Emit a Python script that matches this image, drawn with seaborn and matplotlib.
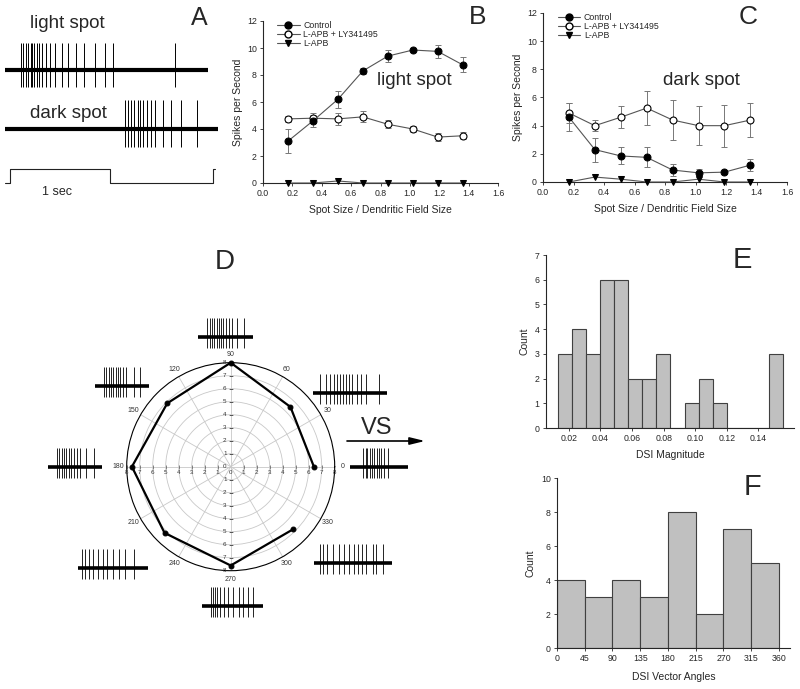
import numpy as np
import pandas as pd
import matplotlib
matplotlib.use("Agg")
import matplotlib.pyplot as plt
import seaborn as sns
from matplotlib.lines import Line2D

# ---------------- data ----------------
spot_size = [0.17, 0.34, 0.51, 0.68, 0.85, 1.02, 1.19, 1.36]
light_control = [3.1, 4.6, 6.2, 8.3, 9.4, 9.85, 9.75, 8.75]
light_control_err = [0.87, 0.45, 0.62, 0.25, 0.42, 0.1, 0.5, 0.55]
light_ly = [4.75, 4.8, 4.75, 4.9, 4.35, 4.0, 3.4, 3.5]
light_ly_err = [0.25, 0.35, 0.45, 0.4, 0.3, 0.2, 0.3, 0.25]
light_lapb = [0, 0, 0.15, 0, 0, 0, 0, 0]

dark_control = [4.6, 2.3, 1.85, 1.75, 0.85, 0.65, 0.7, 1.2]
dark_control_err = [1.0, 0.85, 0.6, 0.7, 0.4, 0.3, 0.1, 0.4]
dark_ly = [4.9, 4.0, 4.6, 5.25, 4.4, 4.0, 4.0, 4.4]
dark_ly_err = [0.7, 0.4, 0.8, 1.2, 1.4, 1.4, 1.5, 1.2]
dark_lapb = [0, 0.35, 0.2, 0, 0, 0.2, 0, 0]

legend_labels = ["Control", "L-APB + LY341495", "L-APB"]

# polar tuning (direction in degrees, spikes/s)
directions = [0, 45, 90, 135, 180, 225, 270, 315]
dir_response = [6.4, 6.5, 8.0, 6.9, 7.6, 7.2, 7.6, 6.8]

# DSI magnitude histogram
e_bin_start = 0.0129
e_bin_width = 0.00892
e_counts = [3, 4, 3, 6, 6, 2, 2, 3, 0, 1, 2, 1, 0, 0, 0, 3]
e_ticks = [0.02, 0.04, 0.06, 0.08, 0.10, 0.12, 0.14]
e_ticklabels = ["0.02", "0.04", "0.06", "0.08", "0.10", "0.12", "0.14"]

# DSI vector angle histogram
f_edges = [0, 45, 90, 135, 180, 225, 270, 315, 360]
f_counts = [4, 3, 4, 3, 8, 2, 7, 5]
f_ticklabels = ["0", "45", "90", "135", "180", "215", "270", "315", "360"]

# spike trains (panel A, seconds)
light_spikes = [0.16, 0.18, 0.21, 0.23, 0.26, 0.27, 0.29, 0.32, 0.34, 0.37, 0.41,
                0.45, 0.50, 0.57, 0.63, 0.71, 0.79, 0.90, 1.00, 1.08, 1.70]
dark_spikes = [1.20, 1.23, 1.26, 1.29, 1.33, 1.35, 1.38, 1.42, 1.46, 1.50, 1.58,
               1.66, 1.76, 1.92]
stim_t = [0.0, 0.05, 1.05, 2.08, 2.10]
stim_level = [0, 1, 0, 1, 1]

# spike trains for each direction (panel D, fraction of sweep)
spikes_0 = [0.23, 0.27, 0.30, 0.34, 0.38, 0.42, 0.46, 0.50, 0.53, 0.58, 0.65]
spikes_45 = [0.10, 0.18, 0.23, 0.28, 0.32, 0.36, 0.40, 0.44, 0.49, 0.53, 0.59, 0.65, 0.72, 0.89]
spikes_90 = [0.17, 0.21, 0.26, 0.29, 0.34, 0.38, 0.42, 0.46, 0.51, 0.56, 0.61, 0.71, 0.84]
spikes_135 = [0.17, 0.20, 0.25, 0.29, 0.34, 0.39, 0.43, 0.47, 0.52, 0.58, 0.72, 0.83]
spikes_180 = [0.17, 0.20, 0.25, 0.29, 0.34, 0.39, 0.43, 0.49, 0.54, 0.60, 0.71, 0.85]
spikes_225 = [0.05, 0.10, 0.16, 0.22, 0.28, 0.35, 0.42, 0.50, 0.58, 0.67, 0.80]
spikes_270 = [0.14, 0.18, 0.22, 0.25, 0.30, 0.36, 0.43, 0.50, 0.60, 0.68, 0.75, 0.83]
spikes_315 = [0.08, 0.12, 0.17, 0.24, 0.32, 0.38, 0.45, 0.51, 0.56, 0.61, 0.67, 0.75, 0.80, 0.89]

# ---------------- style ----------------
sns.set_style("ticks")
plt.rcParams["font.family"] = ["Liberation Sans", "DejaVu Sans"]
plt.rcParams["axes.linewidth"] = 0.8

W, H = 800, 689
fig = plt.figure(figsize=(8, 6.89), dpi=100)


def rect(l, t, r, b):
    return [l / W, 1 - b / H, (r - l) / W, (b - t) / H]


# overlay for the little traces and the arrow
ov = fig.add_axes([0, 0, 1, 1])
ov.set_xlim(0, W)
ov.set_ylim(H, 0)
ov.axis("off")

# ---------------- panel A ----------------
aax = fig.add_axes(rect(0, 0, 230, 200))
aax.set_xlim(-0.05, 2.25)
aax.set_ylim(200, 0)
aax.axis("off")
aax.plot([0, 2.03], [70, 70], color="black", lw=3.0, solid_capstyle="butt")
aax.vlines(light_spikes, 87, 43, color="black", lw=0.7)
aax.plot([0, 2.13], [129, 129], color="black", lw=3.0, solid_capstyle="butt")
aax.vlines(dark_spikes, 147, 100, color="black", lw=0.7)
aax.step(stim_t, [183 - 14 * v for v in stim_level], where="post", color="#222222", lw=0.8)
aax.text(0.52, 192, "1 sec", fontsize=9, ha="center", va="center")
aax.text(0.62, 23, "light spot", fontsize=13.5, ha="center", va="center")
aax.text(0.63, 113, "dark spot", fontsize=13.5, ha="center", va="center")
fig.text(199 / W, 1 - 18 / H, "A", fontsize=18, ha="center", va="center")


# ---------------- panels B & C ----------------
def spike_panel(box, ctrl, ctrl_err, ly, ly_err, lapb, title, txy, letter, lxy, leg_anchor):
    ax = fig.add_axes(rect(*box))
    ax.errorbar(spot_size, ly, yerr=ly_err, fmt="none", ecolor="#777777",
                elinewidth=0.7, capsize=2.2, capthick=0.7, zorder=1)
    ax.errorbar(spot_size, ctrl, yerr=ctrl_err, fmt="none", ecolor="#777777",
                elinewidth=0.7, capsize=2.2, capthick=0.7, zorder=1)
    sns.lineplot(x=spot_size, y=lapb, ax=ax, color="#555555", lw=0.8, marker="v",
                 markersize=4.5, markerfacecolor="black", markeredgecolor="black",
                 errorbar=None, clip_on=False, zorder=3)
    sns.lineplot(x=spot_size, y=ly, ax=ax, color="#555555", lw=0.8, marker="o",
                 markersize=5, markerfacecolor="white", markeredgecolor="black",
                 markeredgewidth=0.8, errorbar=None, clip_on=False, zorder=3)
    sns.lineplot(x=spot_size, y=ctrl, ax=ax, color="#555555", lw=0.8, marker="o",
                 markersize=5, markerfacecolor="black", markeredgecolor="black",
                 errorbar=None, clip_on=False, zorder=4)
    ax.set_xlim(0, 1.6)
    ax.set_ylim(0, 12)
    ax.set_xticks(np.arange(0, 1.61, 0.2))
    ax.set_xticklabels([f"{v:.1f}" for v in np.arange(0, 1.61, 0.2)])
    ax.set_yticks(range(0, 13, 2))
    ax.tick_params(labelsize=6.3, length=2.5, width=0.6, pad=2)
    sns.despine(ax=ax)
    ax.set_xlabel("Spot Size / Dendritic Field Size", fontsize=7.5, labelpad=5)
    ax.set_ylabel("Spikes per Second", fontsize=7.5, labelpad=3)
    ax.text(txy[0], txy[1], title, fontsize=13.5, ha="center", va="center")
    handles = [
        Line2D([], [], color="#555555", lw=0.8, marker="o", ms=5, mfc="black", mec="black"),
        Line2D([], [], color="#555555", lw=0.8, marker="o", ms=5, mfc="white", mec="black"),
        Line2D([], [], color="#555555", lw=0.8, marker="v", ms=4.5, mfc="black", mec="black"),
    ]
    ax.legend(handles, legend_labels, loc="upper left", bbox_to_anchor=leg_anchor,
              frameon=False, fontsize=6.3, handlelength=2.6, handletextpad=0.4,
              labelspacing=0.0, borderpad=0, borderaxespad=0)
    fig.text(lxy[0] / W, 1 - lxy[1] / H, letter, fontsize=19, ha="center", va="center")
    return ax


spike_panel((263, 21, 498, 183), light_control, light_control_err, light_ly, light_ly_err,
            light_lapb, "light spot", (1.03, 7.6), "B", (478, 17), (0.06, 1.0))
spike_panel((543, 13, 787, 182), dark_control, dark_control_err, dark_ly, dark_ly_err,
            dark_lapb, "dark spot", (1.04, 7.2), "C", (748, 17), (0.06, 1.0))

# ---------------- panel D (polar) ----------------
cx, cy, R = 230.7, 466.7, 104
pax = fig.add_axes(rect(cx - R, cy - R, cx + R, cy + R), projection="polar")
theta = np.deg2rad(directions + [directions[0]])
rvals = dir_response + [dir_response[0]]
sns.lineplot(x=theta, y=rvals, ax=pax, sort=False, color="black", lw=1.6, marker="o",
             markersize=3.5, markeredgecolor="black", errorbar=None, clip_on=False, zorder=5)
pax.set_xlabel("")
pax.set_ylabel("")
pax.set_ylim(0, 8)
pax.set_thetagrids(np.arange(0, 360, 30), labels=[str(a) for a in range(0, 360, 30)],
                   fontsize=5, color="#333333")
pax.set_rgrids(range(1, 8), labels=[""] * 7)
pax.set_ylim(0, 8)
pax.tick_params(axis="x", pad=-4.5)
pax.grid(color="#c8c8c8", lw=0.6)
pax.spines["polar"].set_color("black")
pax.spines["polar"].set_linewidth(0.8)
pax.set_facecolor("white")
for i in range(0, 9):
    for th in ([0, np.pi] if i > 0 else [0]):
        pax.annotate(str(i), xy=(th, i), xytext=(0, -2.5), textcoords="offset points",
                     ha="center", va="top", fontsize=4.5, color="#333333")
    for th in ([np.pi / 2, 3 * np.pi / 2] if i > 0 else [np.pi / 2]):
        pax.annotate(str(i), xy=(th, i), xytext=(-3, 0), textcoords="offset points",
                     ha="right", va="center", fontsize=4.5, color="#333333")
ticks_r = np.arange(1, 9)
pax.plot(np.zeros(8), ticks_r, ls="none", marker="|", ms=2.5, mew=0.5, color="#555555")
pax.plot(np.full(8, np.pi), ticks_r, ls="none", marker="|", ms=2.5, mew=0.5, color="#555555")
pax.plot(np.full(8, np.pi / 2), ticks_r, ls="none", marker="_", ms=2.5, mew=0.5, color="#555555")
pax.plot(np.full(8, 3 * np.pi / 2), ticks_r, ls="none", marker="_", ms=2.5, mew=0.5, color="#555555")
pax.set_ylim(0, 8)

fig.text(225 / W, 1 - 262 / H, "D", fontsize=20, ha="center", va="center")

# little spike traces around the polar plot
trace_layout = [
    (spikes_0, 350, 408, 467),
    (spikes_45, 313, 387, 393),
    (spikes_90, 198, 253, 337),
    (spikes_135, 95, 149, 386),
    (spikes_180, 48, 102, 467),
    (spikes_225, 78, 148, 568),
    (spikes_270, 202, 263, 606),
    (spikes_315, 314, 392, 563),
]
for sp, x0, x1, yc in trace_layout:
    ov.plot([x0, x1], [yc, yc], color="black", lw=2.6, solid_capstyle="butt")
    xs = [x0 + s * (x1 - x0) for s in sp]
    ov.vlines(xs, yc + 11, yc - 19, color="black", lw=0.6)

ov.text(377, 428, "VS", fontsize=17, ha="center", va="center")
ov.annotate("", xy=(425, 441), xytext=(347, 441),
            arrowprops=dict(arrowstyle="-|>,head_length=0.9,head_width=0.22",
                            color="black", lw=1.2, shrinkA=0, shrinkB=0))

# ---------------- panel E ----------------
e_edges = [float(e_bin_start + e_bin_width * k) for k in range(len(e_counts) + 1)]
e_df = pd.DataFrame({
    "dsi": [(a + b) / 2 for a, b in zip(e_edges[:-1], e_edges[1:])],
    "count": e_counts,
})
eax = fig.add_axes(rect(546, 255, 794, 428))
sns.histplot(data=e_df, x="dsi", weights="count", bins=e_edges, ax=eax, color="#c0c0c0",
             edgecolor="#404040", linewidth=0.8, alpha=1)
eax.set_xlim(0.0055, 0.1625)
eax.set_ylim(0, 7)
eax.set_xticks(e_ticks)
eax.set_xticklabels(e_ticklabels)
eax.set_yticks(range(0, 8))
eax.tick_params(labelsize=6.3, length=2.5, width=0.6, pad=2)
sns.despine(ax=eax)
eax.set_xlabel("DSI Magnitude", fontsize=7.5, labelpad=5)
eax.set_ylabel("Count", fontsize=7.5, labelpad=4)
fig.text(742 / W, 1 - 260 / H, "E", fontsize=21, ha="center", va="center")

# ---------------- panel F ----------------
f_df = pd.DataFrame({
    "angle": [(a + b) / 2 for a, b in zip(f_edges[:-1], f_edges[1:])],
    "count": f_counts,
})
fax = fig.add_axes(rect(557, 478, 790, 648))
sns.histplot(data=f_df, x="angle", weights="count", bins=f_edges, ax=fax, color="#c0c0c0",
             edgecolor="#404040", linewidth=0.8, alpha=1)
fax.set_xlim(0, 378)
fax.set_ylim(0, 10)
fax.set_xticks(f_edges)
fax.set_xticklabels(f_ticklabels)
fax.set_yticks(range(0, 11, 2))
fax.tick_params(labelsize=6.3, length=2.5, width=0.6, pad=2)
sns.despine(ax=fax)
fax.set_xlabel("DSI Vector Angles", fontsize=7.5, labelpad=6)
fax.set_ylabel("Count", fontsize=7.5, labelpad=4)
fig.text(752 / W, 1 - 487 / H, "F", fontsize=21, ha="center", va="center")

fig.savefig("out.png", dpi=100)
